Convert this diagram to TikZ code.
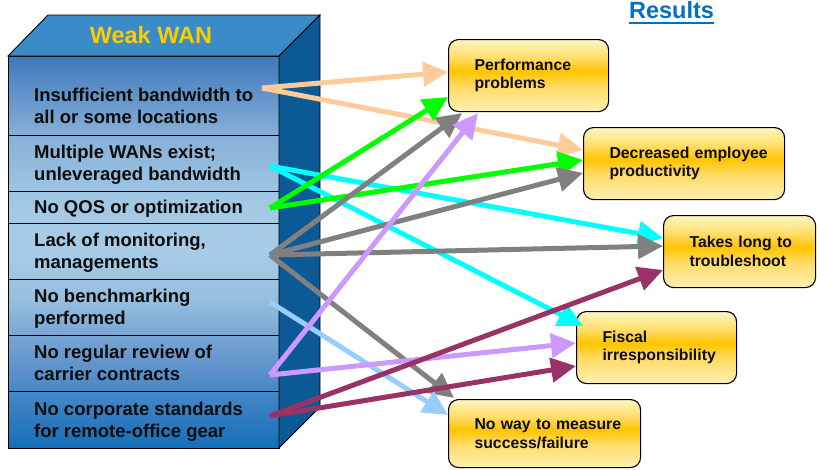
\documentclass[tikz,border=0pt]{standalone}
\usepackage{fontspec}
\setmainfont{Liberation Sans}
\usetikzlibrary{arrows.meta,calc}
\definecolor{ff0}{RGB}{20,110,185}
\definecolor{ff1}{RGB}{100,150,205}
\definecolor{ff2}{RGB}{150,190,222}
\definecolor{ff3}{RGB}{168,204,230}
\definecolor{ff4}{RGB}{162,200,228}
\definecolor{ff5}{RGB}{134,176,216}
\definecolor{ff6}{RGB}{62,121,187}
\definecolor{yb}{RGB}{255,240,180}
\definecolor{yb2}{RGB}{255,220,105}
\definecolor{ym}{RGB}{255,196,0}
\definecolor{yt2}{RGB}{255,222,110}
\definecolor{yt}{RGB}{255,245,195}
\definecolor{topblue}{RGB}{58,140,200}
\definecolor{sideblue}{RGB}{11,90,150}
\definecolor{wanyellow}{RGB}{255,204,0}
\definecolor{resblue}{RGB}{0,112,192}
\definecolor{txt}{RGB}{13,13,13}
\definecolor{cpeach}{RGB}{255,204,153}
\definecolor{ccyan}{RGB}{0,255,255}
\definecolor{cgreen}{RGB}{0,255,0}
\definecolor{cgray}{RGB}{128,128,128}
\definecolor{clblue}{RGB}{153,204,255}
\definecolor{clav}{RGB}{204,153,255}
\definecolor{cmaroon}{RGB}{153,51,102}
\pgfdeclareverticalshading{frontface}{100bp}{color(0bp)=(ff0); color(25bp)=(ff0); color(36.2bp)=(ff1); color(43.9bp)=(ff2); color(50.3bp)=(ff3); color(56.6bp)=(ff4); color(64.9bp)=(ff5); color(75bp)=(ff6); color(100bp)=(ff6)}
\pgfdeclareverticalshading{boxshade}{100bp}{color(0bp)=(yb); color(25bp)=(yb); color(42bp)=(yb2); color(53bp)=(ym); color(63bp)=(yt2); color(75bp)=(yt); color(100bp)=(yt)}
\newcommand{\ind}{\hspace*{25pt}}
\begin{document}
\begin{tikzpicture}[x=1pt,y=-1pt,
  lefttxt/.style={anchor=base west, inner sep=0pt, align=left, font=\fontsize{18.5}{21.5}\selectfont\bfseries, text=txt},
  resbox/.style={draw=black, line width=1.1pt, rounded corners=10pt, shade, shading=boxshade, anchor=north west, inner xsep=1pt, inner ysep=0pt, align=left, font=\fontsize{15.8}{18.5}\selectfont\bfseries, text=txt},
  conn/.style={line width=5pt, -{Triangle[length=25pt,width=24pt]}},
  edgeline/.style={draw=black, line width=0.9pt}
]
\useasboundingbox (0,0) rectangle (817,469);
% front face
\shade[shading=frontface] (8,56) rectangle (279,448);
\foreach \yy in {135,191,223,279,335,391}{\draw[edgeline] (8,\yy) -- (281,\yy);}
\draw[edgeline] (8,56) rectangle (279,448);
% top face
\filldraw[fill=topblue, edgeline] (8,56) -- (48,15) -- (320,15) -- (279,56) -- cycle;
% side face
\filldraw[fill=sideblue, edgeline] (279,56) -- (320,15) -- (320,407) -- (279,448) -- cycle;
\node[anchor=base, inner sep=0pt, font=\fontsize{23.5}{26}\selectfont\bfseries, text=wanyellow] (title) at (151,43) {Weak WAN};
% left texts (anchor at the baseline of the last line)
\node[lefttxt] (r1) at (34,123) {Insufficient bandwidth to\\all or some locations};
\node[lefttxt] (r2) at (34,180) {Multiple WANs exist;\\unleveraged bandwidth};
\node[lefttxt] (r3) at (34,213) {No QOS or optimization};
\node[lefttxt] (r4) at (34,268) {Lack of monitoring,\\managements};
\node[lefttxt] (r5) at (34,324) {No benchmarking\\performed};
\node[lefttxt] (r6) at (34,380) {No regular review of\\carrier contracts};
\node[lefttxt] (r7) at (34,437) {No corporate standards\\for remote-office gear};
% results title
\node[anchor=base, inner sep=0pt, font=\fontsize{23.5}{26}\selectfont\bfseries, text=resblue] (results) at (671.5,18) {Results};
\draw[resblue, line width=2.2pt] ($(results.base west)+(0,5)$) -- ($(results.base east)+(0,5)$);
% result boxes
\node[resbox, minimum width=160pt, minimum height=72pt, text width=158pt] (perf) at (448,39) {\ind Performance\\\ind problems};
\node[resbox, minimum width=201pt, minimum height=72pt, text width=199pt] (decr) at (583,127) {\ind Decreased employee\\\ind productivity};
\node[resbox, minimum width=152pt, minimum height=72pt, text width=150pt] (takes) at (663,215) {\ind Takes long to\\\ind troubleshoot};
\node[resbox, minimum width=160pt, minimum height=72pt, text width=158pt] (fisc) at (576,311) {\ind Fiscal\\\ind irresponsibility};
\node[resbox, minimum width=192pt, minimum height=68pt, text width=190pt] (noway) at (448,399) {\ind No way to measure\\\ind success/failure};
% sources
\coordinate (s1) at (262,88);
\coordinate (s2) at (270,166);
\coordinate (s3) at (270,208);
\coordinate (s4) at (270,255);
\coordinate (s5) at (270,302);
\coordinate (s6) at (270,375);
\coordinate (s7) at (270,416);
% connectors
\draw[conn, cpeach] (s1) -- ($(perf.north west)+(0,33)$);
\draw[conn, cpeach] (s1) -- ($(decr.north west)+(0,23)$);
\draw[conn, ccyan] (s2) -- ($(takes.north west)+(0,23)$);
\draw[conn, ccyan] (s2) -- ($(fisc.north west)+(7,15)$);
\draw[conn, cgreen] (s3) -- ($(perf.north west)+(0,58)$);
\draw[conn, cgreen] (s3) -- ($(decr.north west)+(0,33)$);
\draw[conn, cgray] (s4) -- ($(perf.south west)+(14,1)$);
\draw[conn, cgray] (s4) -- ($(decr.north west)+(0,46)$);
\draw[conn, cgray] (s4) -- ($(takes.north west)+(0,31)$);
\draw[conn, cgray] (s4) -- ($(noway.north west)+(6,-1)$);
\draw[conn, clblue] (s5) -- ($(noway.north west)+(0,16)$);
\draw[conn, clav] (s6) -- ($(perf.south west)+(30,1)$);
\draw[conn, clav] (s6) -- ($(fisc.north west)+(0,32)$);
\draw[conn, cmaroon] (s7) -- ($(takes.north west)+(0,55)$);
\draw[conn, cmaroon] (s7) -- ($(fisc.north west)+(0,55)$);
\end{tikzpicture}
\end{document}
